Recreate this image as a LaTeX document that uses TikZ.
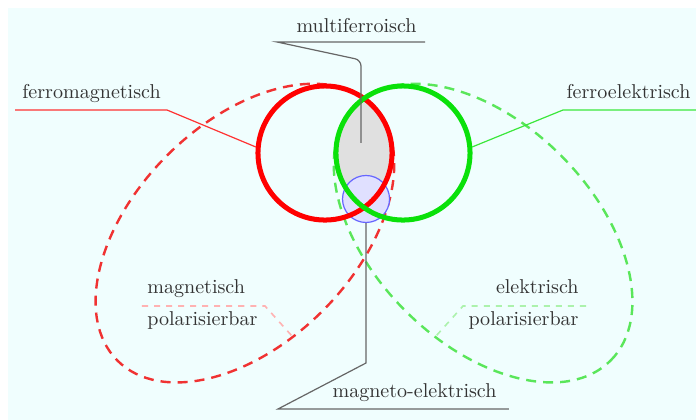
\documentclass[tikz,border=0pt]{standalone}
\usepackage{xcolor}
\usetikzlibrary{positioning}

\definecolor{bgcyan}{RGB}{240,254,254}
\definecolor{ferrogreen}{RGB}{10,225,10}
\definecolor{polred}{RGB}{240,50,50}
\definecolor{polgreen}{RGB}{90,230,90}

\begin{document}
\begin{tikzpicture}[
    lbl/.style={inner sep=0pt, text=black!80},
    ringred/.style={circle, draw=red, line width=2.5pt, minimum size=2.35cm, inner sep=0pt},
    ringgreen/.style={circle, draw=ferrogreen, line width=2.5pt, minimum size=2.35cm, inner sep=0pt},
    ringblue/.style={circle, draw=blue!60, fill=blue!12, line width=0.6pt, minimum size=0.824cm, inner sep=0pt},
    pol_red/.style={draw=polred, line width=1.2pt, dash pattern=on 5pt off 3.5pt},
    pol_green/.style={draw=polgreen, line width=1.2pt, dash pattern=on 5pt off 3.5pt},
    lead_red/.style={draw=red!80, line width=0.6pt},
    lead_green/.style={draw=ferrogreen!80, line width=0.6pt},
    lead_gray/.style={draw=black!60, line width=0.6pt},
    lead_polred/.style={draw=red!30, line width=0.8pt, dashed},
    lead_polgreen/.style={draw=polgreen!50, line width=0.8pt, dashed},
]

    % ===== BACKGROUND =====
    \useasboundingbox (0,0) rectangle (12.2,7.362);
    \fill[white] (0,0) rectangle (12.2,7.362);
    \fill[bgcyan] (0.14,0) rectangle (12.2,7.222);

    % centres
    \coordinate (redctr) at (5.697,4.680);
    \coordinate (greenctr) at (7.064,4.680);
    \coordinate (bluectr) at (6.416,3.874);
    \coordinate (redell) at (4.293,3.276);
    \coordinate (greenell) at (8.468,3.276);

    % ===== POLARISABLE (dashed ellipses) =====
    \draw[pol_red, rotate around={45:(redell)}] (redell) ellipse (3.16 and 1.927);
    \draw[pol_green, rotate around={-45:(greenell)}] (greenell) ellipse (3.16 and 1.927);

    % ===== MULTIFERROIC LENS =====
    \begin{scope}
        \clip (redctr) circle (1.175);
        \fill[black!12] (greenctr) circle (1.175);
    \end{scope}
    \node[ringblue] (bluec) at (bluectr) {};

    % ===== FERROIC RINGS =====
    \node[ringred] (redc) at (redctr) {};
    \node[ringgreen] (greenc) at (greenctr) {};

    % ===== LABELS =====
    \node[lbl, anchor=base] (fmtext) at (1.604,5.627) {ferromagnetisch};
    \node[lbl, anchor=base] (fetext) at (11.017,5.627) {ferroelektrisch};
    \node[lbl, anchor=base] (mftext) at (6.249,6.784) {multiferroisch};
    \node[lbl, anchor=base] (metext) at (7.266,0.403) {magneto-elektrisch};
    \node[lbl, anchor=base west] (magtop) at (2.577,2.209) {magnetisch};
    \node[lbl, anchor=base west] (magbot) at (2.577,1.665) {polarisierbar};
    \node[lbl, anchor=base east] (eltop) at (10.149,2.209) {elektrisch};
    \node[lbl, anchor=base east] (elbot) at (10.149,1.665) {polarisierbar};

    % leader corners
    \coordinate (fmleft) at (0.263,5.434);
    \coordinate (fmbend) at (2.927,5.434);
    \coordinate (feright) at (12.2,5.434);
    \coordinate (febend) at (9.869,5.434);
    \coordinate (mfright) at (7.450,6.626);
    \coordinate (mfleft) at (4.856,6.626);
    \coordinate (mfbend) at (6.328,6.310);
    \coordinate (mfend) at (6.328,4.856);
    \coordinate (meright) at (8.922,0.193);
    \coordinate (meleft) at (4.873,0.193);
    \coordinate (mebend) at (6.416,0.999);
    \coordinate (magleft) at (2.489,1.998);
    \coordinate (magbend) at (4.645,1.998);
    \coordinate (magtip) at (5.118,1.472);
    \coordinate (elright) at (10.272,1.998);
    \coordinate (elbend) at (8.116,1.998);
    \coordinate (eltip) at (7.643,1.472);

    % ===== LEADERS =====
    \draw[lead_red] (fmleft) -- (fmbend) -- (redc.175);
    \draw[lead_green] (feright) -- (febend) -- (greenc.5);
    \draw[lead_gray] (mfright) -- (mfleft) [rounded corners=3pt] -- (mfbend) -- (mfend);
    \draw[lead_gray] (meright) -- (meleft) -- (mebend) -- (bluec.south);
    \draw[lead_polred] (magleft) -- (magbend) -- (magtip);
    \draw[lead_polgreen] (elright) -- (elbend) -- (eltip);

\end{tikzpicture}
\end{document}
